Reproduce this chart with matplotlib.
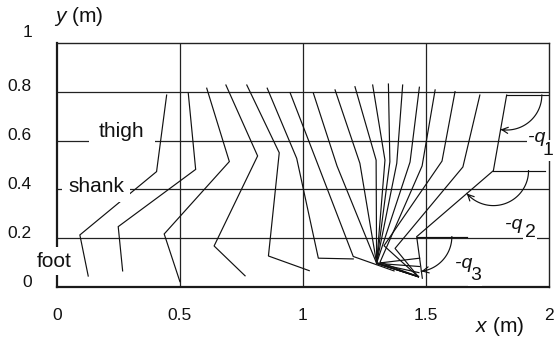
import numpy as np
import matplotlib
matplotlib.use("Agg")
import matplotlib.pyplot as plt

plt.rcParams['font.family'] = ['Liberation Sans', 'DejaVu Sans']
plt.rcParams['mathtext.fontset'] = 'custom'
plt.rcParams['mathtext.rm'] = 'Liberation Sans'
plt.rcParams['mathtext.it'] = 'Liberation Sans:italic'

# Joint positions of the leg for each stick-figure frame (metres)
hip_x = [0.446, 0.534, 0.609, 0.687, 0.772, 0.855, 0.948, 1.043, 1.131,
         1.212, 1.284, 1.348, 1.406, 1.474, 1.538, 1.619, 1.720, 1.829]
hip_y = [0.786, 0.793, 0.814, 0.827, 0.827, 0.814, 0.796, 0.793, 0.807,
         0.820, 0.827, 0.831, 0.827, 0.818, 0.807, 0.800, 0.786, 0.786]
knee_x = [0.405, 0.564, 0.701, 0.816, 0.904, 0.975, 1.058, 1.139, 1.232,
          1.298, 1.334, 1.354, 1.382, 1.436, 1.485, 1.566, 1.651, 1.775]
knee_y = [0.473, 0.482, 0.514, 0.537, 0.550, 0.527, 0.510, 0.496, 0.507,
          0.520, 0.520, 0.513, 0.507, 0.512, 0.496, 0.516, 0.492, 0.477]
ankle_x = [0.093, 0.249, 0.436, 0.639, 0.860, 1.063, 1.205, 1.300, 1.300,
           1.300, 1.300, 1.300, 1.300, 1.300, 1.314, 1.330, 1.375, 1.463]
ankle_y = [0.214, 0.248, 0.218, 0.169, 0.128, 0.119, 0.126, 0.098, 0.098,
           0.098, 0.098, 0.098, 0.098, 0.098, 0.103, 0.170, 0.159, 0.207]
toe_x = [0.127, 0.267, 0.500, 0.765, 1.026, 1.205, 1.371, 1.475, 1.474,
         1.472, 1.470, 1.470, 1.470, 1.470, 1.470, 1.470, 1.470, 1.486]
toe_y = [0.046, 0.067, 0.023, 0.047, 0.068, 0.116, 0.067, 0.119, 0.085,
         0.060, 0.045, 0.043, 0.043, 0.043, 0.043, 0.043, 0.043, 0.037]

x_ticks = [0, 0.5, 1, 1.5, 2]
x_tick_labels = ['0', '0.5', '1', '1.5', '2']
y_ticks = [0, 0.2, 0.4, 0.6, 0.8, 1]
y_tick_labels = ['0', '0.2', '0.4', '0.6', '0.8', '1']

INK = '#111111'
GRID = '#222222'

fig = plt.figure(figsize=(5.54, 3.44), dpi=100)
ax = fig.add_axes([57 / 554, (344 - 287.3) / 344, 491.7 / 554, 244.6 / 344])
ax.set_xlim(0, 2)
ax.set_ylim(0, 1)
ax.set_xticks([])
ax.set_yticks([])

for side in ['top', 'right']:
    ax.spines[side].set_linewidth(1.0)
    ax.spines[side].set_color(GRID)
for side in ['left', 'bottom']:
    ax.spines[side].set_linewidth(1.6)
    ax.spines[side].set_color('#1a1a1a')

for gx in x_ticks[1:-1]:
    ax.axvline(gx, color=GRID, lw=0.9, zorder=1)
for gy in y_ticks[1:-1]:
    ax.axhline(gy, color=GRID, lw=0.9, zorder=1)

# tick labels
for xv, lab in zip(x_ticks, x_tick_labels):
    ax.text(xv, -0.117, lab, ha='center', va='center', fontsize=12.5,
            color=INK, clip_on=False)
for yv, lab in zip(y_ticks, y_tick_labels):
    lift = 0.042 if yv == 1 else 0.021
    ax.text(-0.102, yv + lift, lab, ha='right', va='center', fontsize=12.5,
            color=INK, clip_on=False)

ax.text(0.089, 1.109, r'$y$ (m)', ha='center', va='center', fontsize=15,
        color=INK, clip_on=False)
ax.text(1.798, -0.162, r'$x$ (m)', ha='center', va='center', fontsize=15,
        color=INK, clip_on=False)

# stick figures: hip - knee - ankle - toe
for i in range(len(hip_x)):
    ax.plot([hip_x[i], knee_x[i], ankle_x[i], toe_x[i]],
            [hip_y[i], knee_y[i], ankle_y[i], toe_y[i]],
            color=INK, lw=0.85, zorder=3, solid_joinstyle='miter')

# joint-angle construction on the last frame
last = len(hip_x) - 1
joints = [(hip_x[last], hip_y[last], knee_x[last], knee_y[last], 0.169),
          (knee_x[last], knee_y[last], ankle_x[last], ankle_y[last], 0.210),
          (ankle_x[last], ankle_y[last], toe_x[last], toe_y[last], 0.203)]
r = 0.143
for cx, cy, ex, ey, ref_len in joints:
    ax.plot([cx, cx + ref_len], [cy, cy], color=INK, lw=0.85, zorder=3)
    end = np.arctan2(ey - cy, ex - cx)
    th = np.linspace(0, end, 80)
    ax.plot(cx + r * np.cos(th), cy + r * np.sin(th), color=INK, lw=0.85,
            zorder=3)
    ax.annotate('', xy=(cx + r * np.cos(end), cy + r * np.sin(end)),
                xytext=(cx + r * np.cos(end + 0.12), cy + r * np.sin(end + 0.12)),
                arrowprops=dict(arrowstyle='->', lw=0.85, color=INK,
                                shrinkA=0, shrinkB=0, mutation_scale=11),
                zorder=4)

white = dict(facecolor='white', edgecolor='none', boxstyle='square')

# segment names
ax.text(0.264, 0.639, 'thigh', ha='center', va='center', fontsize=15,
        color=INK, zorder=5, bbox=dict(white, pad=0.5))
ax.text(0.159, 0.414, 'shank', ha='center', va='center', fontsize=15,
        color=INK, zorder=5, bbox=dict(white, pad=0.3))
ax.text(-0.010, 0.107, 'foot', ha='center', va='center', fontsize=15,
        color=INK, zorder=5, clip_on=False, bbox=dict(white, pad=0.2))

# angle names: "-q" with a lowered, full-size index
angle_labels = [((1.916, 0.594), (1.976, 0.541), '1'),
                ((1.822, 0.238), (1.902, 0.207), '2'),
                ((1.619, 0.079), (1.680, 0.030), '3')]
for (qx, qy), (sx, sy), sub in angle_labels:
    ax.text(sx, sy, sub, ha='left', va='baseline', fontsize=14,
            color=INK, zorder=5, clip_on=False,
            bbox=dict(white, pad=0.08))
    ax.text(qx, qy, '-q', style='italic', ha='left', va='baseline',
            fontsize=14, color=INK, zorder=6, clip_on=False,
            bbox=dict(white, pad=0.05))

fig.savefig('out.png', dpi=100)
